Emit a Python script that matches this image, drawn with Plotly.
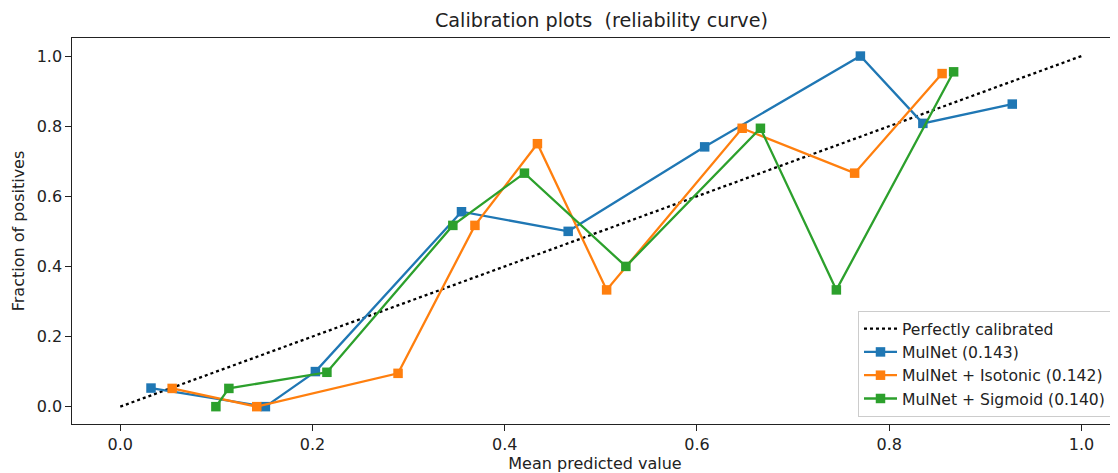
import plotly.graph_objects as go

# Data
perfect_x = [0.0, 1.0]
perfect_y = [0.0, 1.0]

mulnet_x = [0.032, 0.151, 0.203, 0.355, 0.466, 0.608, 0.770, 0.835, 0.928]
mulnet_y = [0.053, 0.0, 0.100, 0.556, 0.500, 0.741, 1.000, 0.808, 0.863]

iso_x = [0.054, 0.142, 0.289, 0.369, 0.434, 0.506, 0.647, 0.764, 0.855]
iso_y = [0.052, 0.0, 0.095, 0.517, 0.750, 0.333, 0.794, 0.666, 0.950]

sig_x = [0.0995, 0.113, 0.215, 0.346, 0.4205, 0.526, 0.666, 0.745, 0.867]
sig_y = [0.0, 0.052, 0.098, 0.517, 0.666, 0.400, 0.794, 0.333, 0.955]

names = ["Perfectly calibrated", "MulNet (0.143)", "MulNet + Isotonic (0.142)", "MulNet + Sigmoid (0.140)"]
colors = ["#1f77b4", "#ff7f0e", "#2ca02c"]
tick_vals = [0.0, 0.2, 0.4, 0.6, 0.8, 1.0]

FONT = "DejaVu Sans"
TXT = "#222222"
FS = 16

# page body has an 8px margin; figure is sized to fit the window
W, H = 1110, 465

fig = go.Figure()
fig.add_trace(go.Scatter(x=perfect_x, y=perfect_y, mode="lines", name=names[0],
                         line=dict(color="black", width=2.3, dash="dot")))
for xs, ys, nm, c in [(mulnet_x, mulnet_y, names[1], colors[0]),
                      (iso_x, iso_y, names[2], colors[1]),
                      (sig_x, sig_y, names[3], colors[2])]:
    fig.add_trace(go.Scatter(x=xs, y=ys, mode="lines+markers", name=nm,
                             line=dict(color=c, width=2.3),
                             marker=dict(symbol="square", size=9.5, color=c)))

fig.update_layout(
    width=W, height=H,
    margin=dict(l=64, r=0, t=30, b=49, autoexpand=False),
    paper_bgcolor="white", plot_bgcolor="white",
    font=dict(family=FONT, size=FS, color=TXT),
    title=dict(text="Calibration plots  (reliability curve)", x=(601.5 - 8) / W, xanchor="center",
               y=1 - 12 / H, yanchor="middle", font=dict(size=19.2, family=FONT, color=TXT)),
    legend=dict(x=(858 - 72) / 1046, y=(424 - 311) / 386, xanchor="left", yanchor="top",
                bgcolor="rgba(255,255,255,0.8)", bordercolor="#cccccc", borderwidth=1,
                font=dict(size=15.6, family=FONT, color=TXT), tracegroupgap=0,
                itemwidth=33),
    showlegend=True,
)
fig.update_xaxes(range=[-0.0502, 1.038], tickvals=tick_vals, tickformat=".1f",
                 showgrid=False, zeroline=False, showline=True, mirror=True,
                 linecolor=TXT, linewidth=1.2, ticks="outside", ticklen=5.6,
                 tickcolor=TXT, tickwidth=1.2, tickfont=dict(size=FS, family=FONT, color=TXT),
                 title=dict(text="Mean predicted value", standoff=5,
                            font=dict(size=FS, family=FONT, color=TXT)),
                 automargin=False)
fig.update_yaxes(range=[-0.0495, 1.0515], tickvals=tick_vals, tickformat=".1f",
                 showgrid=False, zeroline=False, showline=True, mirror=False,
                 linecolor=TXT, linewidth=1.2, ticks="outside", ticklen=5.6,
                 tickcolor=TXT, tickwidth=1.2, tickfont=dict(size=FS, family=FONT, color=TXT),
                 title=dict(text="Fraction of positives", standoff=8,
                            font=dict(size=FS, family=FONT, color=TXT)),
                 automargin=False)

fig.write_html("out.html")
